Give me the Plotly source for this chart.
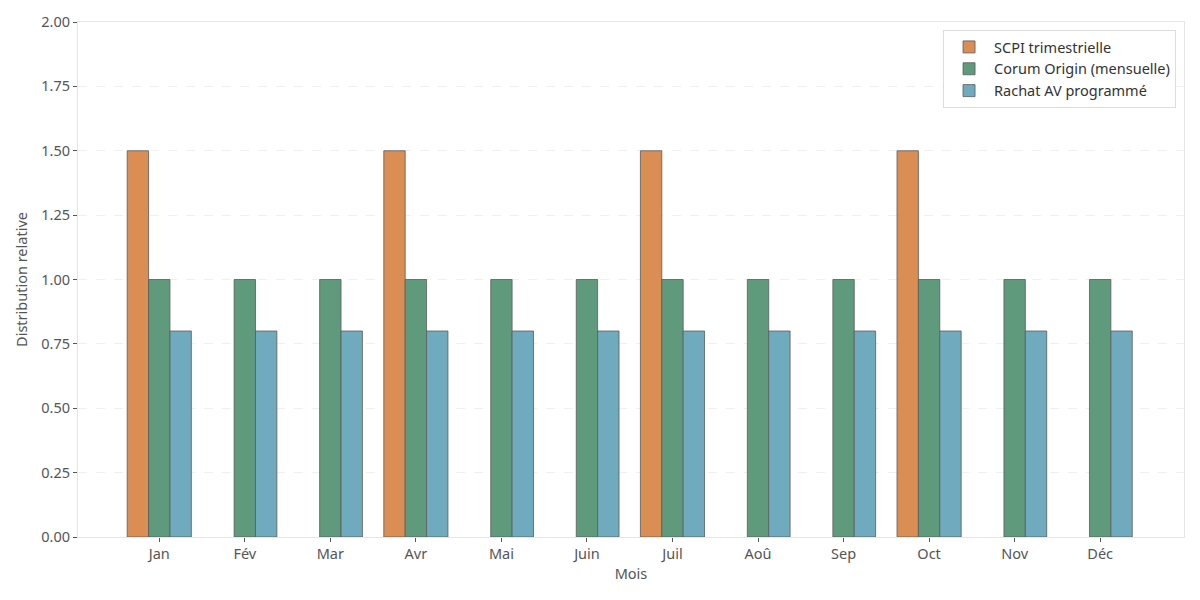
import plotly.graph_objects as go

mois = ["Jan", "Fév", "Mar", "Avr", "Mai", "Juin", "Juil", "Aoû", "Sep", "Oct", "Nov", "Déc"]
scpi = [1.5, 0, 0, 1.5, 0, 0, 1.5, 0, 0, 1.5, 0, 0]
corum = [1.0] * 12
rachat = [0.8] * 12

series = [
    ("SCPI trimestrielle", scpi, "#DB8E54", -0.25),
    ("Corum Origin (mensuelle)", corum, "#5F9A7D", 0.0),
    ("Rachat AV programmé", rachat, "#6FAABE", 0.25),
]

x_idx = list(range(len(mois)))
fig = go.Figure()
for name, vals, col, off in series:
    fig.add_trace(go.Bar(
        x=[i + off for i in x_idx], y=[v if v else None for v in vals], name=name, width=0.25,
        marker=dict(color=col, line=dict(color="#5a5a5a", width=0.8)),
    ))

font = "'Noto Sans', Lato, sans-serif"
fs = 14.5
fig.update_layout(
    width=1184, height=584,
    paper_bgcolor="white", plot_bgcolor="white",
    margin=dict(l=70, r=8, t=14, b=55, autoexpand=False),
    barmode="overlay",
    font=dict(family=font, size=fs, color="#555555"),
    showlegend=True,
    legend=dict(x=0.9928, y=0.9845, xanchor="right", yanchor="top",
                bordercolor="#dddddd", borderwidth=1, bgcolor="white",
                itemwidth=40,
                font=dict(size=fs, color="#333333"), tracegroupgap=0),
    xaxis=dict(
        range=[-0.95, 11.98], tickmode="array", tickvals=x_idx, ticktext=mois,
        showgrid=False, zeroline=False,
        showline=True, linecolor="#e6e6e6", linewidth=1, mirror=True,
        ticks="outside", ticklen=4, tickcolor="#555555",
        title=dict(text="Mois", font=dict(size=fs, color="#555555"), standoff=6),
        tickfont=dict(size=fs, color="#555555"),
    ),
    yaxis=dict(
        range=[0, 2.0], tickmode="array",
        tickvals=[0, 0.25, 0.5, 0.75, 1.0, 1.25, 1.5, 1.75, 2.0],
        ticktext=["0.00", "0.25", "0.50", "0.75", "1.00", "1.25", "1.50", "1.75", "2.00"],
        showgrid=True, gridcolor="#f0f0f0", griddash="dash", gridwidth=1,
        zeroline=False,
        showline=True, linecolor="#e6e6e6", linewidth=1, mirror=True,
        ticks="outside", ticklen=4, tickcolor="#555555",
        title=dict(text="Distribution relative", font=dict(size=fs, color="#555555"), standoff=10),
        tickfont=dict(size=fs, color="#555555"),
    ),
)
fig.write_html("out.html")
